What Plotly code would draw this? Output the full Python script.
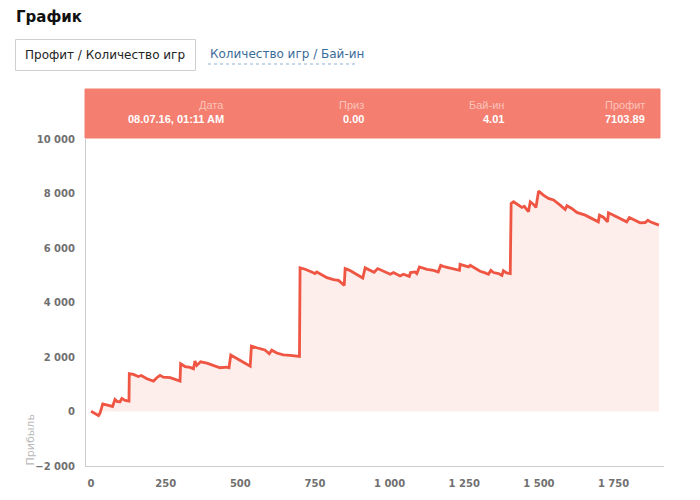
import plotly.graph_objects as go

# ---- data ----
games = [0, 13, 25, 30, 39, 52, 72, 80, 88, 97, 103, 114, 127, 128, 142, 158, 168, 187, 209, 220,
         231, 242, 265, 298, 300, 315, 332, 343, 348, 354, 367, 388, 410, 432, 455, 462, 468, 488,
         510, 533, 537, 555, 572, 582, 597, 605, 622, 644, 667, 689, 698, 700, 717, 739, 750, 756,
         790, 812, 829, 848, 851, 866, 910, 918, 935, 948, 960, 979, 1002, 1013, 1035, 1046, 1066,
         1070, 1085, 1091, 1100, 1125, 1147, 1163, 1171, 1186, 1214, 1234, 1236, 1253, 1264, 1270,
         1286, 1303, 1320, 1331, 1339, 1348, 1365, 1376, 1381, 1392, 1404, 1407, 1415, 1432, 1443,
         1451, 1465, 1471, 1482, 1490, 1499, 1515, 1532, 1549, 1558, 1571, 1588, 1594, 1610, 1627,
         1655, 1677, 1699, 1703, 1717, 1730, 1733, 1750, 1766, 1783, 1794, 1803, 1822, 1839, 1856,
         1865, 1873, 1889, 1902]
profit = [10, -85, -150, -60, 280, 245, 185, 440, 365, 360, 480, 405, 380, 1385, 1360, 1285, 1320,
          1200, 1115, 1240, 1325, 1260, 1240, 1115, 1750, 1650, 1620, 1565, 1850, 1690, 1825, 1775,
          1690, 1605, 1630, 1605, 2070, 1935, 1810, 1665, 2400, 2340, 2300, 2260, 2120, 2250, 2145,
          2080, 2060, 2020, 2020, 5270, 5220, 5120, 5060, 5120, 4910, 4840, 4810, 4630, 5245, 5180,
          4900, 5270, 5180, 5110, 5245, 5145, 5035, 5100, 4975, 5035, 4960, 5100, 5120, 5060, 5305,
          5220, 5180, 5120, 5365, 5305, 5220, 5180, 5400, 5345, 5305, 5365, 5270, 5145, 5085, 5035,
          5180, 5100, 5060, 4990, 5165, 5085, 5060, 7635, 7695, 7550, 7490, 7530, 7330, 7695, 7600,
          7490, 8090, 7940, 7820, 7765, 7695, 7575, 7415, 7550, 7450, 7305, 7205, 7085, 6960, 7205,
          7120, 6960, 7290, 7205, 7110, 7020, 6960, 7120, 7020, 6925, 6935, 7020, 6960, 6900, 6840]

y_ticks = [-2000, 0, 2000, 4000, 6000, 8000, 10000]
x_ticks = [0, 250, 500, 750, 1000, 1250, 1500, 1750]

tooltip_labels = ["Дата", "Приз", "Бай-ин", "Профит"]
tooltip_values = ["08.07.16, 01:11 AM", "0.00", "4.01", "7103.89"]

# ---- layout geometry (page pixels; the figure sits at an 8px body margin) ----
OFF = 8
W, H = 700 - OFF, 500 - OFF
L, R, T, B = 86, 664, 139, 466  # plot area in page pixels


def px(x):
    return (x - L) / (R - L)


def py(y):
    return (B - y) / (B - T)


FONT = "DejaVu Sans"
RED = "#ef5543"

fig = go.Figure()
fig.add_trace(go.Scatter(
    x=games, y=profit, mode="lines",
    line=dict(color=RED, width=2.8),
    fill="tozeroy", fillcolor="rgba(252,225,221,0.6)",
    hoverinfo="skip", showlegend=False,
))

fig.update_layout(
    width=W, height=H,
    margin=dict(l=L - OFF, r=700 - R, t=T - OFF, b=500 - B, pad=0),
    paper_bgcolor="white", plot_bgcolor="white",
    separators=". ",
    font=dict(family=FONT, color="#333"),
    xaxis=dict(range=[-17, 1919], tickvals=x_ticks, tickformat=",d",
               showgrid=False, zeroline=False, showline=True, linecolor="#cccccc", linewidth=1,
               ticks="outside", ticklen=8, tickcolor="rgba(0,0,0,0)",
               tickfont=dict(family=FONT, size=10, color="#707070", weight="bold")),
    yaxis=dict(range=[-2000, 10000], tickvals=y_ticks, tickformat=",d",
               showgrid=False, zeroline=False, showline=True, linecolor="#cccccc", linewidth=1,
               ticks="outside", ticklen=8, tickcolor="rgba(0,0,0,0)",
               tickfont=dict(family=FONT, size=10, color="#707070", weight="bold")),
)

shapes = []
annotations = []

# page title
annotations.append(dict(x=px(14), y=py(17), xref="paper", yref="paper", xanchor="left", yanchor="middle",
                        text="<b>График</b>", showarrow=False,
                        font=dict(family=FONT, size=15, color="#111")))
# button
shapes.append(dict(type="rect", xref="paper", yref="paper", x0=px(15.5), x1=px(195.5), y0=py(39.5), y1=py(70.5),
                   line=dict(color="#cfcfcf", width=1), fillcolor="white", layer="above"))
annotations.append(dict(x=px(105), y=py(55), xref="paper", yref="paper", xanchor="center", yanchor="middle",
                        text="Профит / Количество игр", showarrow=False,
                        font=dict(family=FONT, size=12, color="#222")))
# link
annotations.append(dict(x=px(208), y=py(54), xref="paper", yref="paper", xanchor="left", yanchor="middle",
                        text="Количество игр / Бай-ин", showarrow=False,
                        font=dict(family=FONT, size=12, color="#3a6c9a")))
shapes.append(dict(type="line", xref="paper", yref="paper", x0=px(208), x1=px(358), y0=py(64), y1=py(64),
                   line=dict(color="#8fb3d3", width=1, dash="dot"), layer="above"))

# tooltip header box
shapes.append(dict(type="rect", xref="paper", yref="paper", x0=px(85), x1=px(660), y0=py(89), y1=py(138),
                   line=dict(color="#f47e6f", width=1), fillcolor="#f47e6f", layer="above"))
right_edges = [226, 366, 506, 647]
for xe, lab, val in zip(right_edges, tooltip_labels, tooltip_values):
    annotations.append(dict(x=px(xe), y=py(105), xref="paper", yref="paper", xanchor="right", yanchor="middle",
                            text=lab, showarrow=False,
                            font=dict(family="Liberation Sans", size=11, color="#fbc3ba")))
    annotations.append(dict(x=px(xe), y=py(119), xref="paper", yref="paper", xanchor="right", yanchor="middle",
                            text="<b>" + val + "</b>", showarrow=False,
                            font=dict(family="Liberation Sans", size=11, color="white")))

# y axis title (low aligned)
annotations.append(dict(x=px(30), y=py(468), xref="paper", yref="paper", xanchor="center", yanchor="bottom",
                        text="Прибыль", textangle=-90, showarrow=False,
                        font=dict(family=FONT, size=11, color="#bbbbbb")))

fig.update_layout(shapes=shapes, annotations=annotations)
fig.write_html("out.html")
